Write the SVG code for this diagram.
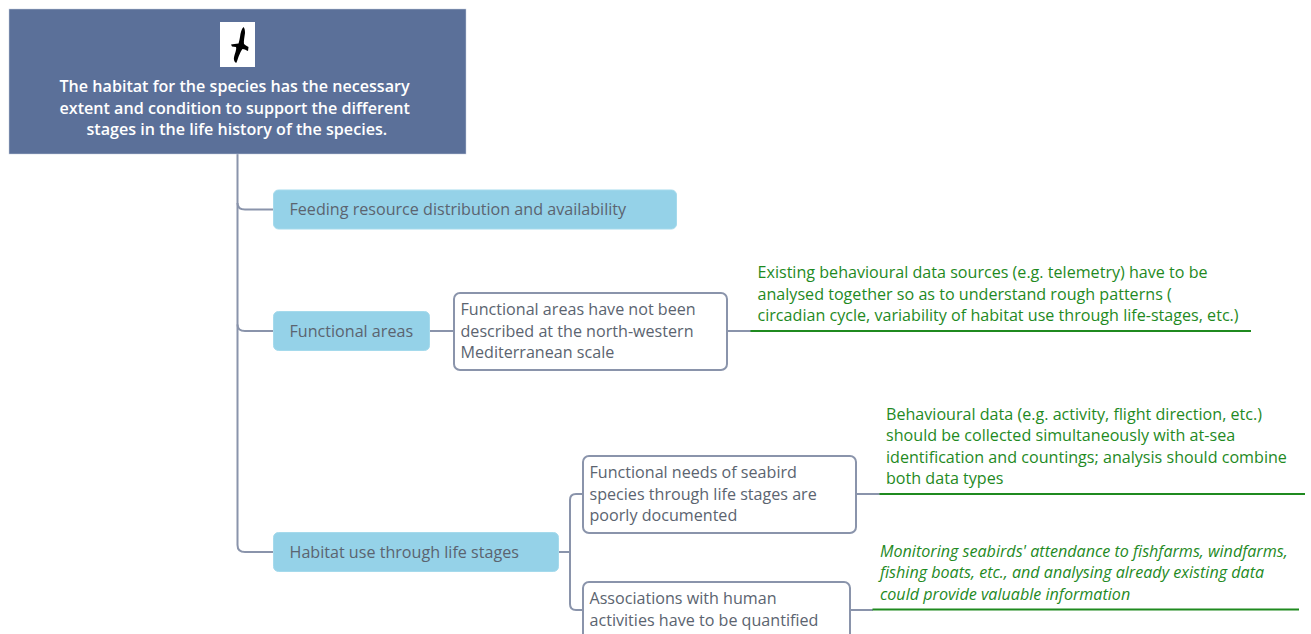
<svg xmlns="http://www.w3.org/2000/svg" width="1311" height="634" viewBox="0 0 1311 634">
<style>
text{font-family:"Open Sans","Liberation Sans",sans-serif;font-size:16.12px}
.root{fill:#fff;font-weight:600}
.dark{fill:#5b6470}
.green{fill:#1f8a1f}
.it{font-style:italic}
.topic{fill:#95d2e8;stroke:#a5daec;stroke-width:1}
.sub{fill:#fff;stroke:#8a94ab;stroke-width:2}
.con{fill:none;stroke:#8a94ab;stroke-width:2}
.gl{fill:none;stroke:#1f8a1f;stroke-width:2}
</style>
<rect width="1311" height="634" fill="#fff"/>
<g id="connectors">
<path class="con" d="M237.500 154V545Q237.500 552 245 552H274"/>
<path class="con" d="M237.500 203Q237.500 209.500 245 209.500H274"/>
<path class="con" d="M237.500 324.500Q237.500 331 245 331H274"/>
<path class="con" d="M430 331H454"/>
<path class="con" d="M558 552H570"/>
<path class="con" d="M583 494H576Q570 494 570 500V604Q570 610 576 610H583"/>
<path class="con" d="M727 331H751"/>
<path class="con" d="M856 494H880"/>
<path class="con" d="M850 610H873"/>
<path class="gl" d="M750.500 331H1251"/>
<path class="gl" d="M879.500 494H1305"/>
<path class="gl" d="M872.500 609.500H1299"/>
</g>
<g id="root">
<rect x="9" y="9" width="457" height="145" fill="#5b7099" stroke="#c5cede" stroke-width="0.500"/>
<rect x="220" y="22" width="35" height="45" fill="#fff"/>
<path d="M243.500 27C241.500 29 240.500 33 240 37C239.500 40 239 42 238.500 43.500C236 44 233 44 231 44.500L232 46.500L236 47C236.500 48.500 236 50 235.500 52C234.500 55 233.500 58 234 60C234.500 62 236 63.500 236.500 62.500C238 59 238.500 56 239.500 54.500C240.500 52 241.500 50 242.500 49C244.500 49 246.500 50.500 248 51L248.500 47C246.500 46 245 45 244 44C243.500 41 244.500 37 245 33C245 30 244.500 28 243.500 27Z" fill="#000"/>
<text class="root" x="59.500" y="92">The habitat for the species has the necessary</text>
<text class="root" x="59.500" y="113.500">extent and condition to support the different</text>
<text class="root" x="86.500" y="135">stages in the life history of the species.</text>
</g>
<g id="topic-feeding">
<rect class="topic" x="273.500" y="190" width="403" height="39" rx="5"/>
<text class="dark" x="289.500" y="214.500">Feeding resource distribution and availability</text>
</g>
<g id="topic-functional">
<rect class="topic" x="273.500" y="311.500" width="156" height="39" rx="5"/>
<text class="dark" x="289.500" y="336.500">Functional areas</text>
</g>
<g id="topic-habitat">
<rect class="topic" x="273.500" y="532.500" width="285" height="39" rx="5"/>
<text class="dark" x="289.500" y="557.500">Habitat use through life stages</text>
</g>
<g id="sub-functional">
<rect class="sub" x="454" y="293" width="273" height="77" rx="6"/>
<text class="dark" x="460.500" y="315">Functional areas have not been</text>
<text class="dark" x="460.500" y="336.500">described at the north-western</text>
<text class="dark" x="460.500" y="357.500">Mediterranean scale</text>
</g>
<g id="sub-needs">
<rect class="sub" x="583" y="456" width="273" height="77" rx="6"/>
<text class="dark" x="589.500" y="478">Functional needs of seabird</text>
<text class="dark" x="589.500" y="499.500">species through life stages are</text>
<text class="dark" x="589.500" y="521">poorly documented</text>
</g>
<g id="sub-associations">
<rect class="sub" x="583" y="582" width="267" height="77" rx="6"/>
<text class="dark" x="589.500" y="604">Associations with human</text>
<text class="dark" x="589.500" y="625.500">activities have to be quantified</text>
</g>
<g id="note-behaviour">
<text class="green" x="757.500" y="278">Existing behavioural data sources (e.g. telemetry) have to be</text>
<text class="green" x="757.500" y="299.500">analysed together so as to understand rough patterns (</text>
<text class="green" x="757.500" y="321">circadian cycle, variability of habitat use through life-stages, etc.)</text>
</g>
<g id="note-data">
<text class="green" x="886" y="419.500">Behavioural data (e.g. activity, flight direction, etc.)</text>
<text class="green" x="886" y="441">should be collected simultaneously with at-sea</text>
<text class="green" x="886" y="462.500">identification and countings; analysis should combine</text>
<text class="green" x="886" y="484">both data types</text>
</g>
<g id="note-monitoring">
<text class="green it" x="880" y="557">Monitoring seabirds' attendance to fishfarms, windfarms,</text>
<text class="green it" x="880" y="578">fishing boats, etc., and analysing already existing data</text>
<text class="green it" x="880" y="599.500">could provide valuable information</text>
</g>
</svg>
